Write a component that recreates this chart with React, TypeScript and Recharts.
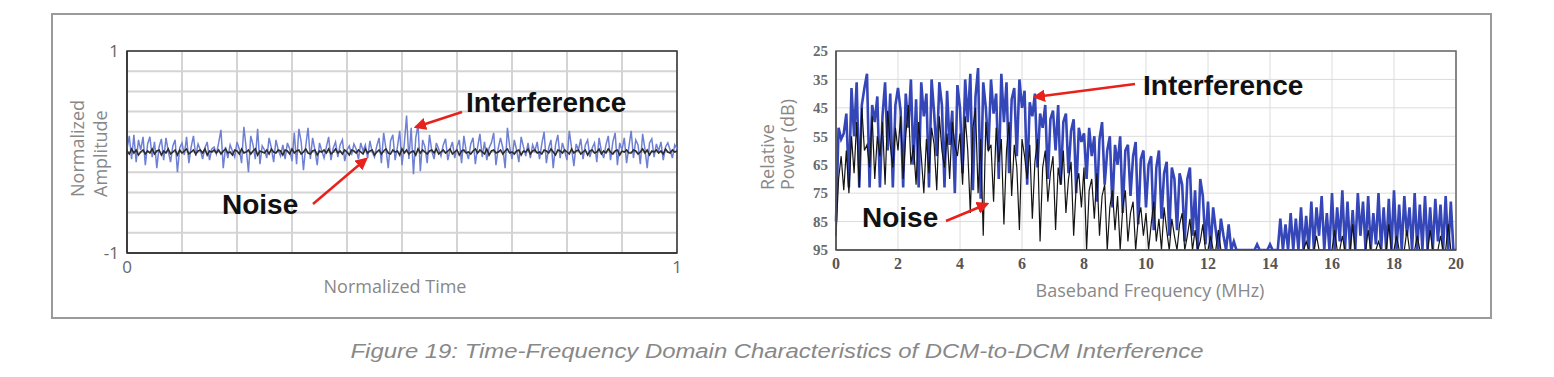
import React from "react";
import { LineChart, Line, XAxis, YAxis, CartesianGrid, ReferenceArea } from "recharts";

// left panel: time domain
const timeTicks = [0, 0.1, 0.2, 0.3, 0.4, 0.5, 0.6, 0.7, 0.8, 0.9, 1];
const ampTicks = [-1, -0.8, -0.6, -0.4, -0.2, 0, 0.2, 0.4, 0.6, 0.8, 1];

const timeInterference = [
  0.03, 0.16, -0.07, 0.17, -0.1, 0.12, 0.02, 0.15, -0.13, 0.08,
  0.15, -0.05, 0.1, -0.16, 0.05, 0.13, -0.08, 0.14, 0.01, -0.1,
  0.06, 0.12, -0.2, 0.04, 0.09, -0.03, 0.15, -0.11, 0.05, 0.16,
  -0.04, 0.08, 0.02, -0.07, 0.04, 0.1, -0.08, 0.03, 0.05, -0.02,
  0.09, 0.22, -0.16, 0.05, -0.06, 0.07, 0.01, -0.05, 0.1, 0.03,
  -0.11, 0.25, 0.04, -0.2, 0.16, 0.07, -0.07, 0.23, -0.12, 0.06,
  0.02, -0.06, 0.14, 0.04, -0.1, 0.12, 0.02, -0.04, 0.07, -0.07,
  0.09, 0.03, -0.09, 0.19, -0.12, 0.23, 0.1, -0.18, 0.06, 0.24,
  -0.07, 0.14, 0.02, -0.13, 0.09, 0.01, -0.06, 0.05, 0.15, -0.08,
  0.04, 0.1, -0.05, 0.07, 0.12, -0.09, 0.02, 0.06, -0.03, 0.08,
  0.03, -0.07, 0.09, 0.01, 0.07, -0.06, 0.11, 0.0, -0.05, 0.06,
  0.14, -0.11, 0.19, 0.03, -0.16, 0.11, 0.17, -0.08, 0.05, 0.21,
  -0.13, 0.08, 0.36, -0.07, 0.24, -0.22, 0.14, 0.27, -0.19, 0.12,
  0.05, -0.11, 0.17, 0.01, -0.07, 0.09, 0.03, -0.04, 0.07, 0.13,
  -0.08, 0.03, 0.1, -0.06, 0.05, 0.12, -0.11, 0.16, 0.01, -0.07,
  0.08, 0.14, -0.12, 0.05, 0.18, -0.05, 0.1, -0.08, 0.04, 0.09,
  0.19, -0.13, 0.04, 0.14, 0.04, -0.16, 0.24, 0.05, -0.07, 0.12,
  0.02, -0.1, 0.15, 0.05, -0.04, 0.09, -0.06, 0.07, 0.01, 0.1,
  -0.07, 0.08, 0.2, -0.11, 0.04, 0.12, -0.16, 0.07, 0.17, -0.06,
  0.09, 0.01, -0.08, 0.21, 0.04, -0.14, 0.08, 0.02, 0.13, -0.07,
  0.07, 0.12, -0.05, 0.04, 0.09, -0.1, 0.14, 0.01, -0.06, 0.07,
  0.16, -0.08, 0.1, 0.19, -0.13, 0.09, 0.02, 0.14, -0.11, 0.05,
  0.21, -0.06, 0.12, 0.07, -0.12, 0.18, 0.03, -0.16, 0.09, 0.13,
  -0.05, 0.08, 0.01, 0.1, -0.08, 0.05, 0.09, 0.02, -0.06, 0.07,
  0.03,
];

const timeNoise = [
  0.01, -0.02, 0.03, -0.01, 0.02, -0.03, 0.0, 0.02, -0.02, 0.01,
  -0.01, 0.03, -0.02, 0.01, 0.02, -0.03, 0.01, -0.01, 0.03, -0.02,
  0.0, 0.02, -0.03, 0.02, -0.01, 0.01, 0.03, -0.02, 0.0, 0.02,
  -0.02, 0.01, 0.02, -0.01, 0.03, -0.03, 0.01, 0.0, 0.02, -0.01,
  0.02, -0.02, 0.01, 0.03, -0.01, 0.0, -0.03, 0.02, 0.01, -0.02,
  0.03, -0.01, 0.0, 0.02, -0.02, 0.01, 0.03, -0.03, 0.01, 0.0,
  -0.01, 0.02, -0.02, 0.03, 0.0, -0.01, 0.02, 0.01, -0.03, 0.02,
  0.01, -0.02, 0.03, -0.01, 0.01, 0.02, -0.02, 0.0, 0.03, -0.01,
  -0.02, 0.01, 0.02, -0.03, 0.01, 0.0, 0.02, -0.01, 0.03, -0.02,
  0.0, 0.03, -0.01, 0.01, -0.02, 0.02, 0.0, -0.03, 0.02, 0.01,
  -0.01, 0.02, 0.0, -0.02, 0.03, -0.01, 0.01, 0.02, -0.03, 0.0,
  0.02, -0.02, 0.01, 0.03, -0.01, -0.02, 0.02, 0.0, 0.01, -0.03,
  0.03, -0.01, 0.02, -0.02, 0.0, 0.01, -0.03, 0.03, -0.01, 0.02,
  0.0, -0.02, 0.01, 0.02, -0.01, 0.03, -0.02, 0.0, 0.02, -0.01,
  0.01, 0.03, -0.02, 0.0, 0.02, -0.03, 0.01, 0.02, -0.01, 0.0,
  -0.02, 0.01, 0.03, -0.01, 0.02, 0.0, -0.02, 0.03, -0.03, 0.01,
  0.02, -0.01, 0.0, 0.02, -0.02, 0.01, 0.03, -0.01, 0.0, -0.02,
  0.01, 0.02, -0.03, 0.01, 0.0, 0.03, -0.02, 0.01, 0.02, -0.01,
  0.0, -0.02, 0.02, 0.01, -0.01, 0.03, 0.0, -0.03, 0.02, 0.01,
  -0.01, 0.02, 0.0, -0.02, 0.03, -0.01, 0.01, 0.02, -0.02, 0.0,
  0.02, -0.03, 0.01, 0.02, -0.01, 0.0, 0.03, -0.02, 0.01, -0.01,
  0.03, 0.0, -0.02, 0.01, 0.02, -0.03, 0.01, 0.0, 0.02, -0.01,
  -0.01, 0.02, 0.01, -0.02, 0.0, 0.03, -0.01, 0.02, -0.03, 0.01,
  0.0, 0.02, -0.01, 0.01, -0.02, 0.03, 0.0, -0.01, 0.02, 0.0,
  0.01,
];

// right panel: baseband spectrum, 12 samples per MHz from 0 to 20
const freqTicks = [0, 2, 4, 6, 8, 10, 12, 14, 16, 18, 20];
const powerTicks = [25, 35, 45, 55, 65, 75, 85, 95];

const specInterference = [
  85, 52, 56, 54, 47, 73, 38, 55, 36, 73, 44, 38,
  33, 73, 44, 50, 41, 73, 48, 36, 60, 40, 73, 44,
  38, 46, 73, 40, 52, 35, 65, 42, 73, 36, 48, 40,
  73, 35, 47, 62, 36, 44, 73, 39, 58, 46, 75, 37,
  45, 68, 35, 50, 33, 74, 41, 31, 77, 36, 45, 60,
  35, 47, 40, 70, 33, 50, 36, 68, 42, 38, 62, 35,
  45, 39, 72, 43, 48, 40, 66, 47, 52, 44, 70, 49,
  46, 60, 44, 72, 50, 47, 68, 53, 49, 75, 52, 57,
  54, 70, 52, 62, 55, 78, 56, 50, 72, 60, 55, 80,
  58, 65, 55, 82, 60, 58, 76, 62, 57, 86, 63, 60,
  80, 65, 62, 88, 66, 60, 84, 68, 64, 90, 66, 70,
  88, 68, 72, 92, 70, 66, 90, 74, 95, 70, 76, 93,
  78, 95, 80, 88, 95, 84, 90, 95, 86, 95, 92, 95,
  95, 95, 95, 95, 95, 95, 95, 93, 95, 95, 95, 95,
  93, 95, 95, 95, 84, 95, 86, 95, 82, 95, 84, 95,
  80, 95, 83, 95, 78, 95, 80, 90, 76, 95, 82, 95,
  75, 95, 80, 92, 74, 95, 78, 95, 81, 95, 75, 90,
  78, 95, 76, 95, 82, 93, 75, 95, 80, 95, 77, 95,
  74, 95, 79, 95, 76, 90, 80, 95, 75, 95, 79, 95,
  76, 95, 80, 95, 77, 92, 79, 95, 76, 95, 78, 95,
  95,
];

const specNoise = [
  90, 70, 62, 74, 60, 75, 55, 68, 50, 73, 45, 60,
  58, 66, 48, 70, 55, 62, 50, 72, 46, 58, 66, 52,
  60, 48, 70, 55, 44, 65, 58, 72, 50, 62, 75, 56,
  68, 52, 58, 74, 48, 60, 66, 54, 70, 50, 58, 62,
  54, 72, 48, 60, 82, 52, 45, 75, 56, 90, 50, 60,
  58, 78, 52, 64, 56, 86, 60, 50, 76, 58, 66, 88,
  56, 62, 70, 58, 84, 64, 56, 92, 66, 60, 78, 68,
  62, 88, 66, 72, 60, 82, 70, 64, 90, 72, 68, 80,
  66, 95, 74, 70, 84, 68, 90, 76, 72, 95, 80, 74,
  88, 76, 95, 80, 74, 92, 82, 78, 95, 84, 80, 90,
  82, 95, 86, 78, 92, 84, 95, 80, 88, 95, 84, 90,
  95, 86, 82, 95, 90, 84, 95, 88, 95, 92, 86, 95,
  95, 90, 95, 95, 88, 95, 95, 95, 95, 95, 95, 95,
  95, 95, 95, 95, 95, 95, 95, 95, 95, 95, 95, 95,
  95, 95, 95, 95, 95, 95, 95, 95, 95, 95, 95, 95,
  95, 95, 92, 95, 95, 95, 90, 95, 95, 95, 95, 95,
  95, 88, 95, 95, 90, 95, 95, 95, 86, 95, 95, 95,
  95, 95, 88, 95, 95, 95, 92, 95, 95, 95, 86, 95,
  95, 90, 95, 95, 95, 88, 95, 95, 95, 90, 95, 95,
  95, 95, 88, 95, 95, 95, 90, 95, 95, 86, 95, 95,
  95,
];

const timeData = timeInterference.map((v, i) => ({
  t: i / (timeInterference.length - 1),
  interference: v,
  noise: timeNoise[i],
}));

const specData = specInterference.map((v, i) => ({
  f: (i * 20) / (specInterference.length - 1),
  interference: v,
  noise: specNoise[i],
}));

const sans = "'Liberation Sans', Arial, sans-serif";
const titleFont = "'Open Sans', 'Liberation Sans', sans-serif";
const serif = "'Liberation Serif', 'Times New Roman', serif";

function TimeChart() {
  return (
    <LineChart width={720} height={320} data={timeData} margin={{ top: 51, right: 43, bottom: 37, left: 87 }}>
      <CartesianGrid stroke="#d4d4d4" strokeWidth={2} />
      <XAxis
        dataKey="t"
        type="number"
        domain={[0, 1]}
        ticks={timeTicks}
        tickFormatter={(v) => (v === 0 || v === 1 ? String(v) : "")}
        tick={{ fill: "#666", fontSize: 17, fontFamily: titleFont }}
        tickLine={false}
        axisLine={{ stroke: "#333", strokeWidth: 1.5 }}
        height={30}
      />
      <YAxis
        type="number"
        domain={[-1, 1]}
        ticks={ampTicks}
        tickFormatter={(v) => (v === 1 || v === -1 ? String(v) : "")}
        tick={{ fill: "#666", fontSize: 17, fontFamily: titleFont }}
        tickLine={false}
        axisLine={{ stroke: "#333", strokeWidth: 1.5 }}
        width={40}
      />
      <Line dataKey="interference" stroke="#6f80d4" strokeWidth={1.5} dot={false} isAnimationActive={false} />
      <Line dataKey="noise" stroke="#2b2b2b" strokeWidth={1.6} dot={false} isAnimationActive={false} />
      <ReferenceArea x1={0} x2={1} y1={-1} y2={1} fill="none" stroke="#333" strokeWidth={1.5} />
    </LineChart>
  );
}

function SpectrumChart() {
  return (
    <LineChart width={834} height={320} data={specData} margin={{ top: 51, right: 98, bottom: 40, left: 76 }}>
      <CartesianGrid stroke="#dcdcdc" strokeWidth={1} />
      <XAxis
        dataKey="f"
        type="number"
        domain={[0, 20]}
        ticks={freqTicks}
        tick={{ fill: "#555", fontSize: 16, fontFamily: serif, fontWeight: "bold" }}
        tickLine={false}
        axisLine={{ stroke: "#555", strokeWidth: 1.5 }}
        height={30}
      />
      <YAxis
        type="number"
        reversed
        domain={[25, 95]}
        allowDataOverflow
        ticks={powerTicks}
        tick={{ fill: "#6a6a6a", fontSize: 15, fontFamily: serif, fontWeight: "bold" }}
        tickLine={false}
        axisLine={{ stroke: "#555", strokeWidth: 1.5 }}
        width={40}
      />
      <Line dataKey="interference" stroke="#3446b8" strokeWidth={2.6} dot={false} isAnimationActive={false} />
      <Line dataKey="noise" stroke="#141414" strokeWidth={1.2} dot={false} isAnimationActive={false} />
      <ReferenceArea x1={0} x2={20} y1={25} y2={95} fill="none" stroke="#666" strokeWidth={1.5} />
    </LineChart>
  );
}

export default function App() {
  const note = { fontFamily: sans, fontWeight: "bold" as const, fontSize: 28, fill: "#111" };
  const axisTitle = { fontFamily: titleFont, fontSize: 18, fill: "#888" };
  return (
    <div style={{ position: "absolute", left: 0, top: 0, width: 1554, height: 377, background: "#fff" }}>
      <div style={{ position: "absolute", left: 0, top: 0 }}>
        <TimeChart />
      </div>
      <div style={{ position: "absolute", left: 720, top: 0 }}>
        <SpectrumChart />
      </div>
      <svg width={1554} height={377} style={{ position: "absolute", left: 0, top: 0, pointerEvents: "none" }}>
        <defs>
          <marker id="head" viewBox="0 0 10 10" refX="8" refY="5" markerWidth="5" markerHeight="5" orient="auto">
            <path d="M0,0 L10,5 L0,10 z" fill="#e8211c" />
          </marker>
        </defs>
        <rect x={52} y={14} width={1439} height={304} fill="none" stroke="#9a9a9a" strokeWidth={2} />

        <text transform="translate(84,197) rotate(-90)" style={axisTitle}>Normalized</text>
        <text transform="translate(107,197) rotate(-90)" style={axisTitle}>Amplitude</text>
        <text x={395} y={293} textAnchor="middle" style={axisTitle}>Normalized Time</text>

        <text transform="translate(774,190) rotate(-90)" style={axisTitle}>Relative</text>
        <text transform="translate(794,190) rotate(-90)" style={axisTitle}>Power (dB)</text>
        <text x={1150} y={297} textAnchor="middle" style={axisTitle}>Baseband Frequency (MHz)</text>

        <text x={466} y={112} style={note}>Interference</text>
        <line x1={462} y1={112} x2={416} y2={127} stroke="#e8211c" strokeWidth={2.5} markerEnd="url(#head)" />
        <text x={222} y={214} style={note}>Noise</text>
        <line x1={313} y1={204} x2={366} y2={159} stroke="#e8211c" strokeWidth={2.5} markerEnd="url(#head)" />

        <text x={1143} y={95} style={note}>Interference</text>
        <line x1={1135} y1={84} x2={1035} y2={97} stroke="#e8211c" strokeWidth={2.5} markerEnd="url(#head)" />
        <text x={862} y={227} style={note}>Noise</text>
        <line x1={946} y1={221} x2={987} y2={204} stroke="#e8211c" strokeWidth={2.5} markerEnd="url(#head)" />

        <text
          x={777}
          y={358}
          textAnchor="middle"
          textLength={853}
          lengthAdjust="spacingAndGlyphs"
          style={{ fontFamily: sans, fontStyle: "italic", fontSize: 20, fill: "#888" }}
        >
          Figure 19: Time-Frequency Domain Characteristics of DCM-to-DCM Interference
        </text>
      </svg>
    </div>
  );
}
